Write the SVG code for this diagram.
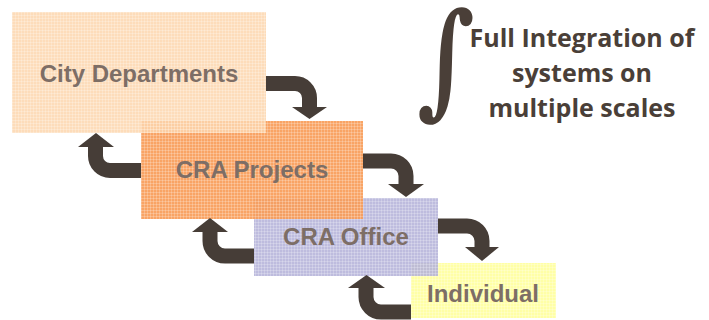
<svg xmlns="http://www.w3.org/2000/svg" width="709" height="320" viewBox="0 0 709 320">
<defs>
<pattern id="grid" width="3" height="3" patternUnits="userSpaceOnUse"><path d="M0,0.5H3M0.5,0V3" stroke="#fff" stroke-width="1" stroke-opacity="0.22" fill="none"/></pattern>
<style>
.lbl{font-family:"Liberation Sans",Arial,sans-serif;font-weight:bold;font-size:24px;fill:#7d6e66;text-anchor:middle}
.tex{fill:url(#grid)}
.shaft{fill:none;stroke:#463d37;stroke-width:15}
.head{fill:#463d37}
.title{font-family:"Open Sans",sans-serif;font-weight:bold;font-size:25px;fill:#4a3f38;text-anchor:middle}
</style>
</defs>
<rect width="709" height="320" fill="#fff"/>
<g id="individual">
<rect x="411" y="263" width="145" height="55" fill="#ffffa6"/>
<rect x="411" y="263" width="145" height="55" class="tex"/>
<text class="lbl" x="483" y="302">Individual</text>
</g>
<g id="cra-office">
<rect x="254" y="198" width="184" height="78" fill="#b5b3d9" fill-opacity="0.88"/>
<rect x="254" y="198" width="184" height="78" class="tex"/>
<text class="lbl" x="346" y="245">CRA Office</text>
</g>
<g id="cra-projects">
<rect x="141" y="121" width="222" height="98" fill="#f89c58" fill-opacity="0.92"/>
<rect x="141" y="121" width="222" height="98" class="tex"/>
<text class="lbl" x="252" y="178">CRA Projects</text>
</g>
<g id="city-departments">
<rect x="12" y="12" width="254" height="121" fill="#fdd6ae" fill-opacity="0.85"/>
<rect x="12" y="12" width="254" height="121" class="tex"/>
<text class="lbl" x="139" y="82">City Departments</text>
</g>
<g id="connectors">
<path class="shaft" d="M266,83.5 H295 A14.5,14.5 0 0 1 309.5,98 V108"/>
<polygon class="head" points="292,107 327,107 309.5,119"/>
<path class="shaft" d="M141,170.5 H110 A14.5,14.5 0 0 1 95.5,156 V146"/>
<polygon class="head" points="78,147 114,147 96,133"/>
<path class="shaft" d="M363,161 H391 A15,15 0 0 1 406,176 V185"/>
<polygon class="head" points="388,184 424,184 406,197"/>
<path class="shaft" d="M254,256 H225 A15,15 0 0 1 210,241 V231"/>
<polygon class="head" points="192,232 228,232 210,218"/>
<path class="shaft" d="M438,226 H467 A15,15 0 0 1 482,241 V248"/>
<polygon class="head" points="465,247 499,247 482,261"/>
<path class="shaft" d="M411,312 H381 A15,15 0 0 1 366,297 V287"/>
<polygon class="head" points="348,288 385,288 366.5,275"/>
</g>
<g id="title">
<text x="0" y="0" font-family="DejaVu Serif,serif" font-weight="bold" font-size="100" fill="#4a3f38" text-anchor="middle" transform="translate(446,102) scale(1,1.25)">∫</text>
<text class="title" x="582" y="47">Full Integration of</text>
<text class="title" x="582" y="82">systems on</text>
<text class="title" x="582" y="117">multiple scales</text>
</g>
</svg>
